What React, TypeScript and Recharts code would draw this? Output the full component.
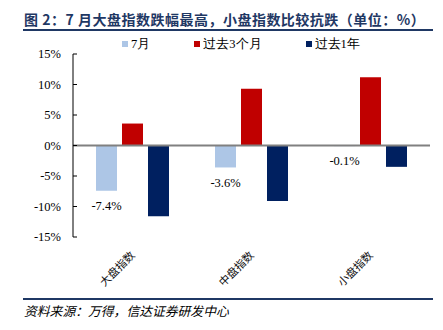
import React from 'react';
import { BarChart, Bar, XAxis, YAxis, ReferenceLine, LabelList } from 'recharts';

// categories and series (unit: %)
const categories = ['大盘指数', '中盘指数', '小盘指数'];
const july = [-7.4, -3.6, -0.1];
const past3m = [3.6, 9.3, 11.2];
const past1y = [-11.6, -9.1, -3.5];
const yTicks = [-15, -10, -5, 0, 5, 10, 15];

const SERIES = [
  { key: 'july', name: '7月', color: '#adc6e6' },
  { key: 'past3m', name: '过去3个月', color: '#c00000' },
  { key: 'past1y', name: '过去1年', color: '#002060' },
];

const data = categories.map((name, i) => ({
  name,
  july: july[i],
  past3m: past3m[i],
  past1y: past1y[i],
}));

const SERIF = "Liberation Serif, Times New Roman, serif";
const NAVY = '#1f3864';

const YTick = ({ x, y, payload }: any) => (
  <g>
    <line x1={x + 12} x2={x + 16} y1={y} y2={y} stroke="#000" />
    <text x={x} y={y} dy="0.35em" textAnchor="end" fontSize={12.5} style={{ fontFamily: SERIF }} fill="#000">
      {payload.value}%
    </text>
  </g>
);

const XTick = ({ x, y, payload }: any) => {
  const tx = x + 3;
  const ty = y + 19;
  return (
    <text
      x={tx}
      y={ty}
      textAnchor="end"
      fontSize={11}
      style={{ fontFamily: "'Noto Sans CJK SC', sans-serif" }}
      fill="#111"
      transform={`rotate(-45 ${tx} ${ty})`}
    >
      {payload.value}
    </text>
  );
};

const JulyLabel = (props: any) => {
  const { x, y, width, height, value } = props;
  const bottom = Math.max(y, y + height);
  return (
    <text
      x={x + width / 2}
      y={bottom + 15}
      dy="0.35em"
      textAnchor="middle"
      fontSize={12.5}
      style={{ fontFamily: SERIF }}
      fill="#000"
    >
      {value}%
    </text>
  );
};

export default function App() {
  return (
    <div style={{ position: 'absolute', left: 0, top: 0, width: 443, height: 330, background: '#fff' }}>
      <div
        style={{
          position: 'absolute',
          left: 24,
          top: 10,
          fontFamily: "'Noto Sans CJK SC', sans-serif",
          fontWeight: 700,
          fontSize: 14,
          letterSpacing: 0.5,
          color: NAVY,
          whiteSpace: 'nowrap',
          lineHeight: '18px',
        }}
      >
        图 2：7 月大盘指数跌幅最高，小盘指数比较抗跌（单位：%）
      </div>
      <div style={{ position: 'absolute', left: 23, top: 29, width: 410, height: 2, background: NAVY }} />

      <BarChart
        width={443}
        height={330}
        data={data}
        margin={{ top: 54, right: 13, left: 0, bottom: 33 }}
        barSize={21}
        barGap={5}
      >
        <XAxis
          dataKey="name"
          axisLine={false}
          tickLine={false}
          tickSize={0}
          tickMargin={0}
          height={60}
          interval={0}
          tick={<XTick />}
        />
        <YAxis
          domain={[-15, 15]}
          ticks={yTicks}
          width={73}
          axisLine={{ stroke: '#000' }}
          tickLine={false}
          tickSize={4}
          tickMargin={8}
          tick={<YTick />}
          interval={0}
        />
        <ReferenceLine y={0} stroke="#808080" strokeWidth={2} />
        {SERIES.map((s) => (
          <Bar key={s.key} dataKey={s.key} name={s.name} fill={s.color} isAnimationActive={false}>
            {s.key === 'july' && <LabelList dataKey="july" content={<JulyLabel />} />}
          </Bar>
        ))}
      </BarChart>

      <div
        style={{
          position: 'absolute',
          left: 122,
          top: 36,
          display: 'flex',
          fontFamily: SERIF,
          fontSize: 12.5,
          lineHeight: '16px',
          color: '#000',
        }}
      >
        {SERIES.map((s) => (
          <div key={s.key} style={{ display: 'flex', alignItems: 'center', marginRight: 44 }}>
            <span style={{ width: 6, height: 6, background: s.color, display: 'inline-block', marginRight: 3 }} />
            <span>{s.name}</span>
          </div>
        ))}
      </div>

      <div style={{ position: 'absolute', left: 23, top: 298, width: 410, height: 2, background: NAVY }} />
      <div
        style={{
          position: 'absolute',
          left: 24,
          top: 303,
          fontFamily: "'Noto Sans CJK SC', sans-serif",
          fontStyle: 'italic',
          fontSize: 12.8,
          color: '#000',
          whiteSpace: 'nowrap',
          lineHeight: '16px',
        }}
      >
        资料来源：万得，信达证券研发中心
      </div>
    </div>
  );
}
